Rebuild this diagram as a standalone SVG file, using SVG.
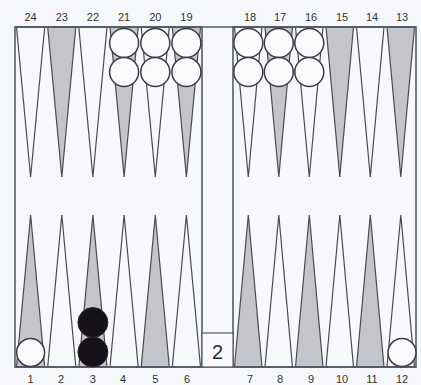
<svg xmlns="http://www.w3.org/2000/svg" width="421" height="385" viewBox="0 0 421 385">
<style>
.pt{stroke:#4a4a50;stroke-width:1.2;stroke-linejoin:miter}
.w{fill:#f7f8fb}
.g{fill:#c4c5ca}
.lbl{font-family:"Liberation Sans",Arial,sans-serif;font-size:11px;fill:#333;text-anchor:middle}
.wc{fill:#fbfbfd;stroke:#3c3c42;stroke-width:1.5}
.bc{fill:#17121a;stroke:#2a2a2a;stroke-width:1}
.frame{fill:none;stroke:#55596a;stroke-width:1.6}
</style>
<rect x="0" y="0" width="421" height="385" fill="#f6f7fb"/>
<g id="board">
<rect x="15" y="27" width="187" height="340" fill="#f7f8fb"/>
<rect x="233" y="27" width="183" height="340" fill="#f7f8fb"/>
</g>
<g id="points-top">
<polygon class="pt w" points="16.5,27 44.7,27 30.6,177"/>
<polygon class="pt g" points="47.7,27 75.8,27 61.8,177"/>
<polygon class="pt w" points="78.8,27 107,27 92.9,177"/>
<polygon class="pt g" points="110,27 138.2,27 124.1,177"/>
<polygon class="pt w" points="141.2,27 169.3,27 155.3,177"/>
<polygon class="pt g" points="172.3,27 200.5,27 186.4,177"/>
<polygon class="pt w" points="234.5,27 262,27 248.3,177"/>
<polygon class="pt g" points="265,27 292.5,27 278.8,177"/>
<polygon class="pt w" points="295.5,27 323,27 309.3,177"/>
<polygon class="pt g" points="326,27 353.5,27 339.8,177"/>
<polygon class="pt w" points="356.5,27 384,27 370.3,177"/>
<polygon class="pt g" points="387,27 414.5,27 400.8,177"/>
</g>
<g id="points-bottom">
<polygon class="pt g" points="16.5,367 44.7,367 30.6,215"/>
<polygon class="pt w" points="47.7,367 75.8,367 61.8,215"/>
<polygon class="pt g" points="78.8,367 107,367 92.9,215"/>
<polygon class="pt w" points="110,367 138.2,367 124.1,215"/>
<polygon class="pt g" points="141.2,367 169.3,367 155.3,215"/>
<polygon class="pt w" points="172.3,367 200.5,367 186.4,215"/>
<polygon class="pt g" points="234.5,367 262,367 248.3,215"/>
<polygon class="pt w" points="265,367 292.5,367 278.8,215"/>
<polygon class="pt g" points="295.5,367 323,367 309.3,215"/>
<polygon class="pt w" points="326,367 353.5,367 339.8,215"/>
<polygon class="pt g" points="356.5,367 384,367 370.3,215"/>
<polygon class="pt w" points="387,367 414.5,367 400.8,215"/>
</g>
<g id="frame">
<rect class="frame" x="15" y="27" width="187" height="340"/>
<rect class="frame" x="233" y="27" width="183" height="340"/>
<line x1="15" y1="27" x2="416" y2="27" stroke="#55596a" stroke-width="1.6"/>
<line x1="15" y1="367" x2="416" y2="367" stroke="#55596a" stroke-width="1.6"/>
</g>
<g id="cube">
<rect x="202" y="333" width="31" height="34" fill="#f9f9fb" stroke="#55596a" stroke-width="1.2"/>
<text x="217.5" y="359" font-family="Liberation Sans,Arial,sans-serif" font-size="20" fill="#2a2a32" text-anchor="middle">2</text>
</g>
<g id="checkers-white-top">
<circle class="wc" cx="124.1" cy="43" r="14.5"/>
<circle class="wc" cx="124.1" cy="72" r="14.5"/>
<circle class="wc" cx="155.3" cy="43" r="14.5"/>
<circle class="wc" cx="155.3" cy="72" r="14.5"/>
<circle class="wc" cx="186.4" cy="43" r="14.5"/>
<circle class="wc" cx="186.4" cy="72" r="14.5"/>
<circle class="wc" cx="248.3" cy="43" r="14.5"/>
<circle class="wc" cx="248.3" cy="72" r="14.5"/>
<circle class="wc" cx="278.8" cy="43" r="14.5"/>
<circle class="wc" cx="278.8" cy="72" r="14.5"/>
<circle class="wc" cx="309.3" cy="43" r="14.5"/>
<circle class="wc" cx="309.3" cy="72" r="14.5"/>
</g>
<g id="checkers-bottom">
<circle class="wc" cx="30.6" cy="352.5" r="14"/>
<circle class="wc" cx="402" cy="352.5" r="14"/>
<circle class="bc" cx="92.9" cy="322.5" r="15"/>
<circle class="bc" cx="92.9" cy="352" r="15"/>
</g>
<g id="labels-top">
<text class="lbl" x="30.6" y="21">24</text>
<text class="lbl" x="61.8" y="21">23</text>
<text class="lbl" x="92.9" y="21">22</text>
<text class="lbl" x="124.1" y="21">21</text>
<text class="lbl" x="155.3" y="21">20</text>
<text class="lbl" x="186.4" y="21">19</text>
<text class="lbl" x="250" y="21">18</text>
<text class="lbl" x="280" y="21">17</text>
<text class="lbl" x="311" y="21">16</text>
<text class="lbl" x="342" y="21">15</text>
<text class="lbl" x="372" y="21">14</text>
<text class="lbl" x="402" y="21">13</text>
</g>
<g id="labels-bottom">
<text class="lbl" x="30.6" y="383">1</text>
<text class="lbl" x="61" y="383">2</text>
<text class="lbl" x="92.9" y="383">3</text>
<text class="lbl" x="123" y="383">4</text>
<text class="lbl" x="155.3" y="383">5</text>
<text class="lbl" x="187" y="383">6</text>
<text class="lbl" x="250" y="383">7</text>
<text class="lbl" x="280" y="383">8</text>
<text class="lbl" x="311" y="383">9</text>
<text class="lbl" x="342" y="383">10</text>
<text class="lbl" x="372" y="383">11</text>
<text class="lbl" x="402" y="383">12</text>
</g>
</svg>
